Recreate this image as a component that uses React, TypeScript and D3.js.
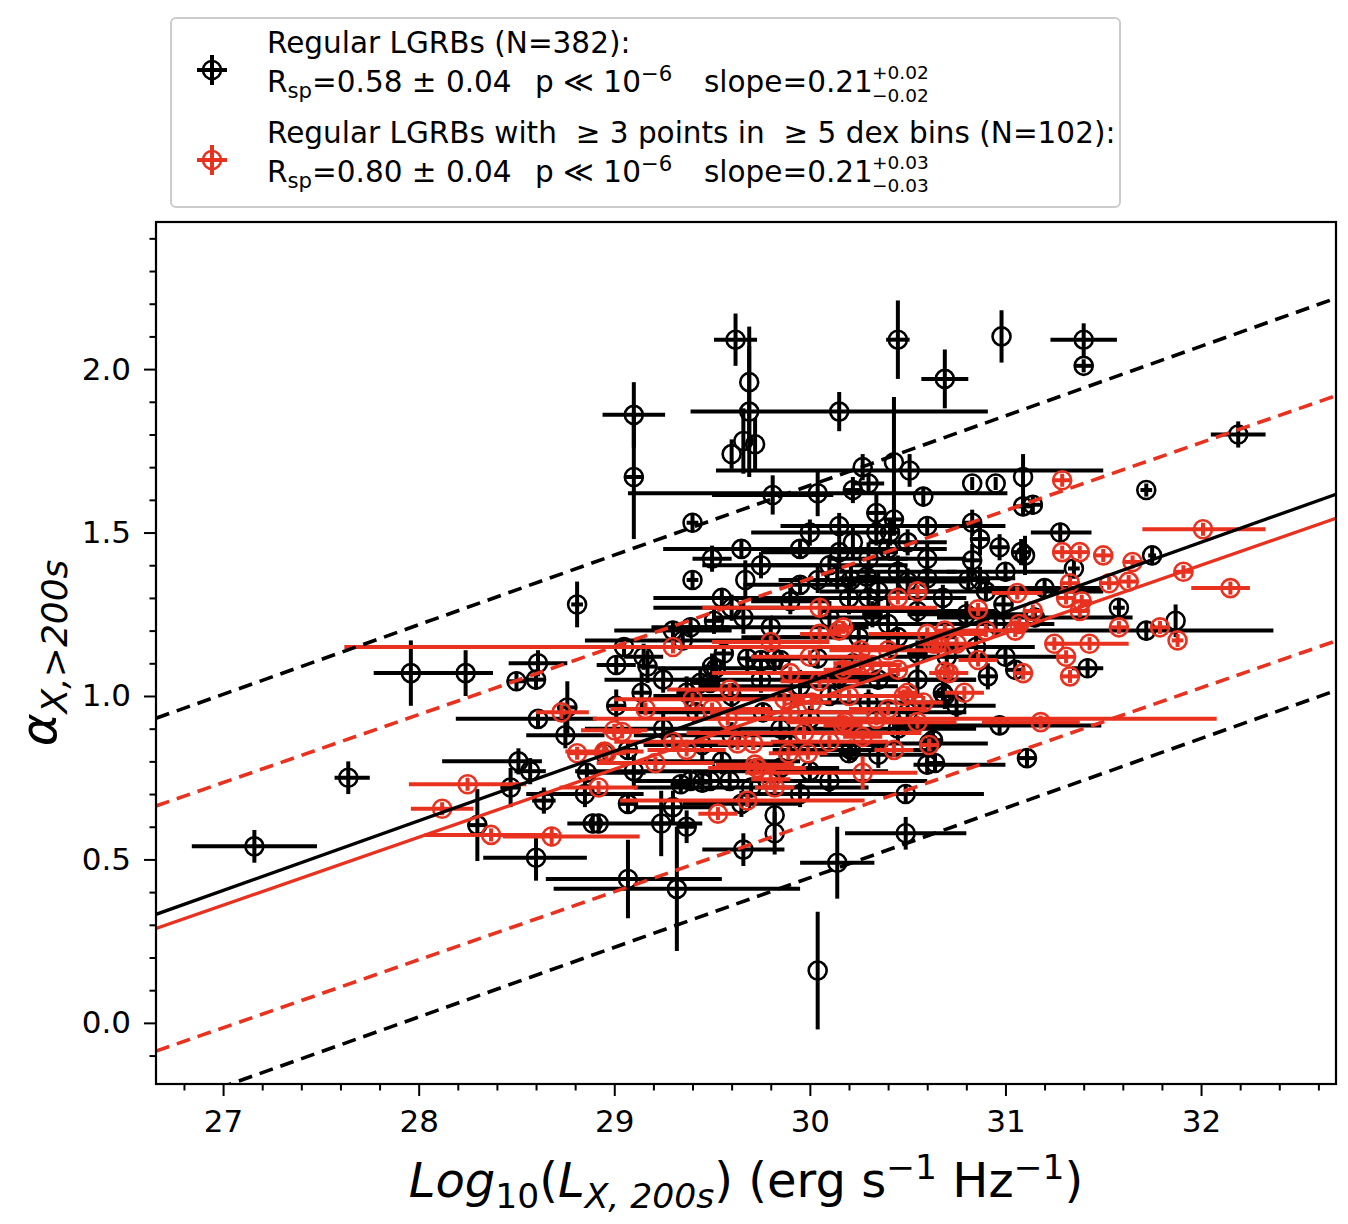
import React, { useEffect, useRef } from "react";
import * as d3 from "d3";

// each point: [logL, alpha, xErrLow, xErrHigh, yErr]
type Pt = [number, number, number, number, number];

const xTicks = [27, 28, 29, 30, 31, 32];
const yTicks = [0.0, 0.5, 1.0, 1.5, 2.0];

const blackPoints: Pt[] = [
  [27.16, 0.54, 0.32, 0.32, 0.05],
  [27.64, 0.75, 0.07, 0.11, 0.05],
  [27.96, 1.07, 0.19, 0.42, 0.1],
  [28.24, 1.07, 0.18, 0.14, 0.07],
  [28.81, 1.28, 0.03, 0.03, 0.07],
  [29.4, 1.53, 0.03, 0.03, 0.03],
  [29.4, 1.355, 0.03, 0.03, 0.03],
  [29.1, 1.86, 0.16, 0.16, 0.1],
  [29.1, 1.67, 0.05, 0.05, 0.19],
  [29.62, 2.09, 0.11, 0.11, 0.08],
  [29.69, 1.96, 0.0, 0.0, 0.17],
  [29.69, 1.87, 0.0, 0.0, 0.2],
  [30.15, 1.87, 0.76, 0.76, 0.06],
  [30.45, 2.09, 0.06, 0.06, 0.12],
  [30.98, 2.1, 0.0, 0.0, 0.08],
  [31.4, 2.09, 0.17, 0.17, 0.05],
  [31.4, 2.01, 0.05, 0.05, 0.02],
  [30.69, 1.97, 0.12, 0.12, 0.09],
  [32.19, 1.8, 0.14, 0.14, 0.04],
  [31.72, 1.63, 0.03, 0.03, 0.02],
  [29.6, 1.74, 0.0, 0.0, 0.045],
  [29.66, 1.78, 0.0, 0.0, 0.1],
  [29.72, 1.77, 0.0, 0.0, 0.08],
  [30.43, 1.715, 0.0, 0.0, 0.2],
  [30.51, 1.69, 0.99, 0.99, 0.05],
  [30.27, 1.7, 0.0, 0.0, 0.04],
  [30.3, 1.65, 0.08, 0.08, 0.03],
  [30.83, 1.65, 0.0, 0.0, 0.02],
  [30.95, 1.65, 0.0, 0.0, 0.02],
  [31.09, 1.67, 0.0, 0.0, 0.07],
  [29.81, 1.615, 0.31, 0.31, 0.06],
  [30.04, 1.62, 0.97, 0.97, 0.07],
  [30.58, 1.61, 0.0, 0.0, 0.03],
  [31.14, 1.585, 0.05, 0.05, 0.03],
  [31.28, 1.5, 0.15, 0.16, 0.03],
  [31.75, 1.43, 0.02, 0.02, 0.03],
  [31.35, 1.39, 0.03, 0.03, 0.03],
  [31.1, 1.43, 0.0, 0.0, 0.06],
  [31.58, 1.27, 0.03, 0.03, 0.03],
  [31.87, 1.23, 0.0, 0.0, 0.05],
  [31.72, 1.2, 0.72, 0.65, 0.03],
  [31.42, 1.085, 0.08, 0.08, 0.03],
  [31.11, 0.81, 0.05, 0.05, 0.03],
  [30.97, 0.91, 0.55, 0.52, 0.03],
  [28.61, 1.1, 0.15, 0.15, 0.04],
  [28.5, 1.045, 0.05, 0.05, 0.03],
  [28.6, 1.05, 0.05, 0.05, 0.03],
  [28.61, 0.93, 0.42, 0.3, 0.03],
  [28.76, 0.965, 0.05, 0.05, 0.08],
  [28.51, 0.8, 0.39, 0.12, 0.04],
  [28.57, 0.77, 0.08, 0.08, 0.04],
  [28.47, 0.72, 0.05, 0.05, 0.06],
  [28.64, 0.68, 0.06, 0.06, 0.04],
  [28.3, 0.605, 0.05, 0.05, 0.11],
  [28.6, 0.505, 0.27, 0.26, 0.07],
  [28.86, 0.765, 0.05, 0.3, 0.03],
  [28.89, 0.61, 0.05, 0.05, 0.03],
  [29.07, 0.44, 0.42, 0.48, 0.12],
  [29.32, 0.41, 0.63, 0.63, 0.19],
  [30.04, 0.16, 0.0, 0.0, 0.18],
  [30.14, 0.49, 0.19, 0.19, 0.11],
  [30.49, 0.58, 0.31, 0.31, 0.05],
  [29.66, 0.53, 0.21, 0.21, 0.05],
  [29.82, 0.58, 0.0, 0.0, 0.065],
  [29.82, 0.635, 0.0, 0.0, 0.03],
  [30.49, 0.7, 0.4, 0.4, 0.03],
  [30.6, 0.79, 0.07, 0.4, 0.03],
  [30.61, 0.855, 0.3, 0.3, 0.03],
  [30.21, 0.835, 0.4, 0.4, 0.03],
  [29.24, 0.61, 0.05, 0.05, 0.1],
  [29.37, 0.6, 0.05, 0.05, 0.05],
  [28.92, 0.61, 0.16, 0.53, 0.03],
  [29.07, 0.67, 0.05, 0.05, 0.03],
  [29.39, 0.74, 0.3, 0.3, 0.03],
  [29.49, 0.74, 0.05, 0.05, 0.03],
  [29.59, 0.74, 0.05, 0.05, 0.03],
  [29.34, 0.73, 0.05, 0.05, 0.03],
  [29.45, 0.735, 0.05, 0.05, 0.03],
  [30.22, 1.47, 0.0, 0.0, 0.05],
  [30.04, 1.355, 0.2, 0.2, 0.04],
  [30.14, 1.365, 0.0, 0.0, 0.04],
  [29.9, 1.29, 0.2, 0.2, 0.04],
  [29.67, 1.355, 0.0, 0.0, 0.06],
  [29.95, 1.34, 0.29, 0.29, 0.03],
  [29.66, 1.24, 0.15, 0.15, 0.05],
  [29.51, 1.23, 0.05, 0.05, 0.04],
  [29.39, 1.21, 0.2, 0.2, 0.03],
  [29.01, 1.095, 0.1, 0.1, 0.03],
  [29.15, 1.12, 0.1, 0.1, 0.04],
  [29.17, 1.09, 0.05, 0.05, 0.05],
  [29.14, 1.01, 0.05, 0.05, 0.06],
  [29.52, 1.085, 0.3, 0.3, 0.03],
  [29.75, 1.11, 0.08, 0.08, 0.03],
  [29.85, 1.11, 0.05, 0.05, 0.03],
  [30.04, 1.115, 0.3, 0.3, 0.03],
  [30.22, 1.1, 0.05, 0.05, 0.03],
  [29.49, 1.04, 0.05, 0.05, 0.03],
  [29.56, 1.13, 0.05, 0.05, 0.04],
  [29.68, 1.115, 0.05, 0.05, 0.04],
  [29.82, 1.115, 0.05, 0.05, 0.04],
  [29.37, 1.01, 0.05, 0.05, 0.05],
  [29.44, 1.04, 0.05, 0.05, 0.04],
  [29.5, 1.09, 0.05, 0.05, 0.04],
  [29.01, 0.97, 0.05, 0.05, 0.05],
  [29.42, 0.95, 0.3, 0.3, 0.03],
  [29.76, 0.95, 0.15, 0.15, 0.03],
  [28.95, 0.825, 0.05, 0.05, 0.03],
  [29.07, 0.835, 0.05, 0.05, 0.03],
  [30.2, 0.825, 0.05, 0.05, 0.03],
  [30.63, 0.865, 0.05, 0.05, 0.03],
  [30.64, 0.795, 0.05, 0.05, 0.03],
  [30.87, 1.48, 0.05, 0.05, 0.05],
  [31.08, 1.44, 0.05, 0.05, 0.04],
  [30.34, 1.56, 0.05, 0.05, 0.06],
  [30.43, 1.54, 0.05, 0.05, 0.05],
  [30.34, 1.5, 0.05, 0.05, 0.04],
  [30.41, 1.5, 0.05, 0.05, 0.04],
  [30.83, 1.53, 0.05, 0.05, 0.04],
  [30.83, 1.415, 0.05, 0.05, 0.05],
  [30.97, 1.455, 0.05, 0.05, 0.04],
  [31.09, 1.58, 0.05, 0.05, 0.03],
  [30.99, 1.28, 0.05, 0.05, 0.04],
  [30.87, 1.355, 0.05, 0.05, 0.04],
  [30.81, 1.355, 0.05, 0.05, 0.04],
  [30.21, 1.355, 0.05, 0.05, 0.04],
  [30.29, 1.365, 0.05, 0.05, 0.04],
  [30.68, 1.3, 0.05, 0.05, 0.04],
  [30.91, 1.06, 0.05, 0.05, 0.04],
  [31.05, 1.08, 0.05, 0.05, 0.03],
  [30.55, 1.13, 0.05, 0.05, 0.04],
  [30.68, 1.01, 0.05, 0.05, 0.04],
  [30.32, 1.25, 0.05, 0.05, 0.04],
  [30.22, 1.63, 0.05, 0.05, 0.04],
  [30.69, 1.0, 0.05, 0.05, 0.04],
  [30.4, 1.45, 0.35, 0.3, 0.03],
  [30.1, 1.4, 0.4, 0.4, 0.03],
  [30.5, 1.35, 0.3, 0.3, 0.04],
  [30.3, 1.3, 0.7, 0.5, 0.03],
  [30.45, 1.18, 0.8, 0.3, 0.03],
  [30.35, 1.05, 0.4, 0.5, 0.03],
  [30.1, 1.0, 0.7, 0.4, 0.03],
  [29.9, 0.85, 0.6, 0.5, 0.03],
  [30.0, 0.77, 0.6, 0.4, 0.03],
  [29.7, 0.72, 0.6, 0.6, 0.03],
  [30.55, 1.26, 0.5, 0.4, 0.04],
  [30.6, 1.42, 0.2, 0.2, 0.05],
  [29.3, 1.2, 0.3, 0.3, 0.03],
  [29.6, 1.27, 0.4, 0.35, 0.04],
  [29.8, 1.21, 0.5, 0.5, 0.03],
  [30.1, 1.24, 0.3, 0.3, 0.05],
  [30.25, 1.18, 0.4, 0.4, 0.04],
  [30.4, 1.22, 0.2, 0.2, 0.08],
  [30.35, 1.32, 0.3, 0.3, 0.06],
  [30.2, 1.3, 0.2, 0.2, 0.05],
  [30.45, 1.38, 0.3, 0.3, 0.05],
  [30.6, 1.36, 0.45, 0.45, 0.04],
  [30.3, 1.42, 0.2, 0.2, 0.05],
  [30.5, 1.47, 0.2, 0.2, 0.04],
  [30.15, 1.44, 0.4, 0.3, 0.04],
  [29.95, 1.45, 0.5, 0.5, 0.03],
  [29.75, 1.4, 0.3, 0.3, 0.04],
  [29.55, 1.3, 0.35, 0.35, 0.03],
  [29.35, 1.17, 0.5, 0.5, 0.03],
  [29.25, 1.05, 0.3, 0.3, 0.04],
  [29.6, 1.0, 0.4, 0.4, 0.04],
  [29.75, 1.05, 0.4, 0.4, 0.04],
  [29.95, 1.03, 0.5, 0.5, 0.05],
  [30.15, 1.06, 0.3, 0.3, 0.04],
  [30.3, 0.98, 0.4, 0.4, 0.04],
  [30.5, 0.95, 0.6, 0.3, 0.04],
  [30.75, 0.97, 0.2, 0.2, 0.04],
  [30.85, 1.15, 0.3, 0.3, 0.04],
  [30.95, 1.22, 0.4, 0.3, 0.04],
  [30.8, 1.25, 0.3, 0.3, 0.04],
  [30.7, 1.12, 0.3, 0.3, 0.05],
  [30.55, 1.05, 0.3, 0.3, 0.05],
  [30.0, 0.93, 0.3, 0.3, 0.04],
  [29.85, 0.9, 0.4, 0.4, 0.04],
  [29.6, 0.88, 0.5, 0.3, 0.04],
  [29.45, 0.85, 0.3, 0.3, 0.05],
  [29.25, 0.9, 0.4, 0.3, 0.05],
  [29.1, 0.77, 0.3, 0.3, 0.05],
  [29.55, 0.8, 0.4, 0.4, 0.04],
  [29.85, 0.78, 0.3, 0.3, 0.04],
  [30.1, 0.74, 0.4, 0.5, 0.04],
  [30.35, 0.82, 0.3, 0.3, 0.04],
  [30.45, 0.9, 0.3, 0.4, 0.04],
  [29.95, 0.7, 0.3, 0.3, 0.04],
  [29.65, 0.67, 0.3, 0.3, 0.04],
  [29.3, 0.66, 0.2, 0.2, 0.05],
  [28.85, 0.7, 0.3, 0.3, 0.04],
  [28.75, 0.88, 0.2, 0.2, 0.04],
  [29.05, 1.15, 0.2, 0.2, 0.03],
  [29.5, 1.42, 0.1, 0.1, 0.04],
  [30.0, 1.5, 0.3, 0.3, 0.04],
  [30.6, 1.52, 0.4, 0.4, 0.03],
  [31.0, 1.38, 0.3, 0.3, 0.03],
  [31.2, 1.33, 0.3, 0.3, 0.03],
  [31.15, 1.24, 0.5, 0.5, 0.03],
  [30.9, 1.32, 0.6, 0.6, 0.03],
  [31.0, 1.12, 0.3, 0.3, 0.03],
  [30.15, 1.52, 0.3, 0.3, 0.04],
  [29.65, 1.45, 0.4, 0.4, 0.03],
];

const redPoints: Pt[] = [
  [30.05, 1.27, 0.6, 0.6, 0.03],
  [29.3, 1.15, 1.68, 1.2, 0.02],
  [29.8, 1.165, 0.3, 0.3, 0.02],
  [30.05, 1.19, 0.1, 0.1, 0.02],
  [30.15, 1.2, 0.05, 0.05, 0.02],
  [30.17, 1.08, 0.1, 0.1, 0.02],
  [29.9, 1.07, 0.4, 0.4, 0.02],
  [30.05, 1.045, 0.2, 0.2, 0.02],
  [29.59, 1.02, 0.32, 0.32, 0.02],
  [29.16, 0.96, 0.18, 0.18, 0.02],
  [29.0, 0.895, 0.17, 0.17, 0.02],
  [30.01, 0.98, 0.1, 0.1, 0.02],
  [29.87, 0.99, 0.1, 0.1, 0.02],
  [30.48, 1.0, 0.1, 0.1, 0.02],
  [30.58, 0.98, 0.1, 0.1, 0.02],
  [30.71, 1.07, 0.1, 0.1, 0.02],
  [30.79, 1.01, 0.1, 0.1, 0.02],
  [30.86, 1.11, 0.1, 0.1, 0.02],
  [30.27, 1.1, 0.15, 0.15, 0.02],
  [30.32, 1.095, 0.15, 0.15, 0.02],
  [30.65, 1.16, 0.1, 0.1, 0.02],
  [30.75, 1.16, 0.1, 0.1, 0.02],
  [30.18, 0.92, 0.3, 0.3, 0.02],
  [29.97, 0.887, 0.6, 0.6, 0.02],
  [29.63, 0.855, 0.1, 0.1, 0.02],
  [29.71, 0.855, 0.1, 0.1, 0.02],
  [29.89, 0.825, 0.1, 0.1, 0.02],
  [29.99, 0.825, 0.1, 0.1, 0.02],
  [30.27, 0.875, 0.1, 0.1, 0.02],
  [30.43, 0.835, 0.1, 0.1, 0.02],
  [30.61, 0.85, 0.05, 0.05, 0.02],
  [30.27, 0.765, 0.6, 0.28, 0.05],
  [29.72, 0.79, 0.2, 0.2, 0.02],
  [29.8, 0.745, 0.1, 0.1, 0.02],
  [29.21, 0.795, 0.3, 0.3, 0.02],
  [28.95, 0.83, 0.2, 0.2, 0.02],
  [29.37, 0.835, 0.2, 0.2, 0.02],
  [29.58, 0.93, 0.3, 0.3, 0.02],
  [30.34, 0.93, 1.45, 1.74, 0.02],
  [31.18, 0.92, 0.3, 0.2, 0.02],
  [28.37, 0.575, 0.34, 0.34, 0.02],
  [28.68, 0.57, 0.25, 0.45, 0.03],
  [28.73, 0.95, 0.13, 0.14, 0.02],
  [28.81, 0.825, 0.05, 0.05, 0.02],
  [28.25, 0.73, 0.3, 0.3, 0.02],
  [28.12, 0.655, 0.16, 0.16, 0.02],
  [29.53, 0.64, 0.1, 0.1, 0.02],
  [29.68, 0.68, 0.65, 0.6, 0.02],
  [29.82, 0.72, 0.1, 0.1, 0.02],
  [29.73, 0.78, 0.25, 0.25, 0.02],
  [28.92, 0.72, 0.2, 0.2, 0.02],
  [28.96, 0.825, 0.1, 0.1, 0.02],
  [29.04, 0.89, 0.1, 0.1, 0.02],
  [30.17, 0.91, 0.1, 0.1, 0.02],
  [31.29, 1.66, 0.05, 0.05, 0.02],
  [32.01, 1.51, 0.31, 0.32, 0.02],
  [31.29, 1.44, 0.05, 0.05, 0.02],
  [31.38, 1.44, 0.05, 0.05, 0.02],
  [31.5, 1.43, 0.05, 0.05, 0.02],
  [31.65, 1.41, 0.05, 0.05, 0.02],
  [31.91, 1.38, 0.05, 0.05, 0.02],
  [32.15, 1.33, 0.2, 0.1, 0.02],
  [31.33, 1.345, 0.05, 0.05, 0.02],
  [31.53, 1.345, 0.05, 0.05, 0.02],
  [31.63, 1.35, 0.05, 0.05, 0.02],
  [31.06, 1.315, 0.13, 0.13, 0.02],
  [31.31, 1.3, 0.05, 0.05, 0.02],
  [31.39, 1.29, 0.05, 0.05, 0.02],
  [31.38, 1.26, 0.05, 0.05, 0.02],
  [31.14, 1.26, 0.05, 0.05, 0.02],
  [31.07, 1.22, 0.05, 0.05, 0.02],
  [31.05, 1.2, 0.05, 0.05, 0.02],
  [31.58, 1.21, 0.05, 0.05, 0.02],
  [31.79, 1.21, 0.05, 0.05, 0.02],
  [31.88, 1.17, 0.03, 0.03, 0.02],
  [31.25, 1.16, 0.05, 0.05, 0.02],
  [31.43, 1.16, 0.2, 0.2, 0.02],
  [31.31, 1.12, 0.05, 0.05, 0.02],
  [31.09, 1.07, 0.05, 0.05, 0.02],
  [31.33, 1.06, 0.05, 0.05, 0.02],
  [30.45, 1.3, 0.05, 0.05, 0.02],
  [30.55, 1.32, 0.05, 0.05, 0.02],
  [30.86, 1.265, 0.05, 0.05, 0.02],
  [30.17, 1.21, 0.05, 0.05, 0.02],
  [30.69, 1.2, 0.05, 0.05, 0.02],
  [30.63, 1.16, 0.05, 0.05, 0.02],
  [30.26, 1.14, 0.05, 0.05, 0.02],
  [30.45, 1.08, 0.05, 0.05, 0.02],
  [30.69, 1.075, 0.05, 0.05, 0.02],
  [30.5, 1.01, 0.05, 0.05, 0.02],
  [30.6, 1.19, 0.3, 0.3, 0.02],
  [29.4, 0.99, 0.4, 0.4, 0.02],
  [29.5, 0.96, 0.4, 0.3, 0.02],
  [30.4, 0.96, 0.2, 0.2, 0.02],
  [30.1, 0.86, 0.3, 0.3, 0.02],
  [29.3, 0.86, 0.3, 0.4, 0.02],
  [30.55, 0.92, 0.2, 0.2, 0.02],
  [30.4, 1.14, 0.3, 0.3, 0.02],
  [30.9, 1.2, 0.2, 0.2, 0.02],
  [29.9, 0.95, 0.4, 0.4, 0.02],
  [30.0, 1.12, 0.3, 0.3, 0.02],
  [30.2, 1.0, 0.3, 0.3, 0.02],
];

// fitted relations: [slope, alpha at log L = 30, half width of dashed band]
const blackFit = [0.213, 1.044, 0.6];
const redFit = [0.208, 0.984, 0.375];

const BLACK = "#000000";
const RED = "#e8321f";
const FONT = "DejaVu Sans";

type Part = [string, "n" | "sup" | "sub", boolean?];

function richText(
  g: d3.Selection<SVGGElement, unknown, null, undefined>,
  x: number,
  y: number,
  size: number,
  parts: Part[],
  anchor = "start"
) {
  const text = g
    .append("text")
    .attr("x", x)
    .attr("y", y)
    .attr("font-size", size)
    .attr("font-family", FONT)
    .attr("text-anchor", anchor)
    .style("white-space", "pre");
  let cur = 0;
  parts.forEach(([t, kind, italic]) => {
    const off = kind === "sup" ? -size * 0.38 : kind === "sub" ? size * 0.22 : 0;
    text
      .append("tspan")
      .attr("dy", off - cur)
      .attr("font-size", kind === "n" ? size : size * 0.72)
      .attr("font-style", italic ? "italic" : "normal")
      .text(t);
    cur = off;
  });
  return text;
}

function Chart() {
  const svgRef = useRef<SVGSVGElement>(null);

  useEffect(() => {
    const width = 1348;
    const height = 1224;
    const margin = { top: 222, right: 12, bottom: 140, left: 156 };

    const svg = d3.select(svgRef.current);
    svg.selectAll("*").remove();
    svg.attr("viewBox", `0 0 ${width} ${height}`);

    const x = d3
      .scaleLinear()
      .domain([26.657, 32.69])
      .range([margin.left, width - margin.right]);
    const y = d3
      .scaleLinear()
      .domain([-0.187, 2.45])
      .range([height - margin.bottom, margin.top]);

    svg
      .append("defs")
      .append("clipPath")
      .attr("id", "plotclip")
      .append("rect")
      .attr("x", margin.left)
      .attr("y", margin.top)
      .attr("width", width - margin.left - margin.right)
      .attr("height", height - margin.top - margin.bottom);

    const plot = svg.append("g").attr("clip-path", "url(#plotclip)");

    // error bars and open circles
    const drawSeries = (pts: Pt[], color: string) => {
      const g = plot.append("g");
      pts.forEach(([px, py, xlo, xhi, ye]) => {
        g.append("line")
          .attr("x1", x(px - xlo))
          .attr("x2", x(px + xhi))
          .attr("y1", y(py))
          .attr("y2", y(py))
          .attr("stroke", color)
          .attr("stroke-width", 4);
        g.append("line")
          .attr("x1", x(px))
          .attr("x2", x(px))
          .attr("y1", y(py - ye))
          .attr("y2", y(py + ye))
          .attr("stroke", color)
          .attr("stroke-width", 4);
      });
      g.selectAll("circle.m")
        .data(pts)
        .enter()
        .append("circle")
        .attr("cx", (d) => x(d[0]))
        .attr("cy", (d) => y(d[1]))
        .attr("r", 9)
        .attr("fill", "none")
        .attr("stroke", color)
        .attr("stroke-width", 2.6);
    };
    drawSeries(blackPoints, BLACK);
    drawSeries(redPoints, RED);

    // fit lines
    const [x0, x1] = x.domain();
    const fitLine = (fit: number[], shift: number, color: string, dashed: boolean) => {
      const [slope, at30, band] = fit;
      const f = (v: number) => slope * (v - 30) + at30 + shift * band;
      plot
        .append("line")
        .attr("x1", x(x0))
        .attr("x2", x(x1))
        .attr("y1", y(f(x0)))
        .attr("y2", y(f(x1)))
        .attr("stroke", color)
        .attr("stroke-width", dashed ? 3.6 : 3.3)
        .attr("stroke-dasharray", dashed ? "14,8" : null);
    };
    fitLine(blackFit, 0, BLACK, false);
    fitLine(blackFit, 1, BLACK, true);
    fitLine(blackFit, -1, BLACK, true);
    fitLine(redFit, 0, RED, false);
    fitLine(redFit, 1, RED, true);
    fitLine(redFit, -1, RED, true);

    // frame
    svg
      .append("rect")
      .attr("x", margin.left)
      .attr("y", margin.top)
      .attr("width", width - margin.left - margin.right)
      .attr("height", height - margin.top - margin.bottom)
      .attr("fill", "none")
      .attr("stroke", "#000")
      .attr("stroke-width", 2.2);

    // axes
    const xMinor = d3.range(26.8, 32.7, 0.2).filter((v) => Math.abs(v - Math.round(v)) > 0.01);
    const yMinor = d3.range(-0.1, 2.45, 0.1).filter((v) => Math.abs(v * 2 - Math.round(v * 2)) > 0.01);

    const styleAxis = (g: d3.Selection<SVGGElement, unknown, null, undefined>) => {
      g.select(".domain").remove();
      g.selectAll("line").attr("stroke", "#000").attr("stroke-width", 2);
      g.selectAll("text").attr("font-family", FONT).attr("font-size", 31).attr("fill", "#000");
    };

    const gx = svg
      .append("g")
      .attr("transform", `translate(0, ${height - margin.bottom})`)
      .call(d3.axisBottom(x).tickValues(xTicks).tickSize(12).tickPadding(14).tickFormat(d3.format("d")));
    styleAxis(gx);
    const gxm = svg
      .append("g")
      .attr("transform", `translate(0, ${height - margin.bottom})`)
      .call(d3.axisBottom(x).tickValues(xMinor).tickSize(6.5).tickFormat(() => ""));
    styleAxis(gxm);

    const gy = svg
      .append("g")
      .attr("transform", `translate(${margin.left}, 0)`)
      .call(d3.axisLeft(y).tickValues(yTicks).tickSize(12).tickPadding(13).tickFormat(d3.format(".1f")));
    styleAxis(gy);
    const gym = svg
      .append("g")
      .attr("transform", `translate(${margin.left}, 0)`)
      .call(d3.axisLeft(y).tickValues(yMinor).tickSize(6.5).tickFormat(() => ""));
    styleAxis(gym);

    // axis labels
    const labels = svg.append("g");
    richText(
      labels,
      (margin.left + width - margin.right) / 2,
      1197,
      48,
      [
        ["Log", "n", true],
        ["10", "sub"],
        ["(", "n"],
        ["L", "n", true],
        ["X, 200s", "sub", true],
        [") (erg s", "n"],
        ["−1", "sup"],
        [" Hz", "n"],
        ["−1", "sup"],
        [")", "n"],
      ],
      "middle"
    );
    const yl = labels
      .append("g")
      .attr("transform", `translate(56, ${(margin.top + height - margin.bottom) / 2}) rotate(-90)`);
    richText(
      yl,
      0,
      0,
      50,
      [
        ["α", "n", true],
        ["X,>200s", "sub", true],
      ],
      "middle"
    );

    // legend
    const lg = svg.append("g");
    lg.append("rect")
      .attr("x", 171)
      .attr("y", 18)
      .attr("width", 949)
      .attr("height", 189)
      .attr("rx", 5)
      .attr("fill", "#fff")
      .attr("stroke", "#cccccc")
      .attr("stroke-width", 2);

    const legendMarker = (cy: number, color: string) => {
      lg.append("line").attr("x1", 197).attr("x2", 227).attr("y1", cy).attr("y2", cy).attr("stroke", color).attr("stroke-width", 4);
      lg.append("line").attr("x1", 212).attr("x2", 212).attr("y1", cy - 15).attr("y2", cy + 15).attr("stroke", color).attr("stroke-width", 4);
      lg.append("circle").attr("cx", 212).attr("cy", cy).attr("r", 9).attr("fill", "none").attr("stroke", color).attr("stroke-width", 2.6);
    };
    legendMarker(70, BLACK);
    legendMarker(160, RED);

    const fs = 29.5;
    const statLine = (yb: number, r: string, err: string) => {
      richText(lg, 267, yb, fs, [
        ["R", "n"],
        ["sp", "sub"],
        [`=${r} ± 0.04`, "n"],
      ]);
      richText(lg, 535, yb, fs, [
        ["p ≪ 10", "n"],
        ["−6", "sup"],
      ]);
      richText(lg, 704, yb, fs, [["slope=0.21", "n"]]);
      lg.append("text").attr("x", 872).attr("y", yb - 13).attr("font-size", 18.5).attr("font-family", FONT).text(`+${err}`);
      lg.append("text").attr("x", 872).attr("y", yb + 10).attr("font-size", 18.5).attr("font-family", FONT).text(`−${err}`);
    };
    richText(lg, 267, 53, fs, [["Regular LGRBs (N=382):", "n"]]);
    statLine(92, "0.58", "0.02");
    richText(lg, 267, 143, fs, [["Regular LGRBs with  ≥ 3 points in  ≥ 5 dex bins (N=102):", "n"]]);
    statLine(182, "0.80", "0.03");
  }, []);

  return <svg ref={svgRef} width={1348} height={1224} style={{ display: "block" }}></svg>;
}

export default function App() {
  return (
    <div style={{ position: "absolute", left: 0, top: 0, background: "#fff" }}>
      <Chart />
    </div>
  );
}
